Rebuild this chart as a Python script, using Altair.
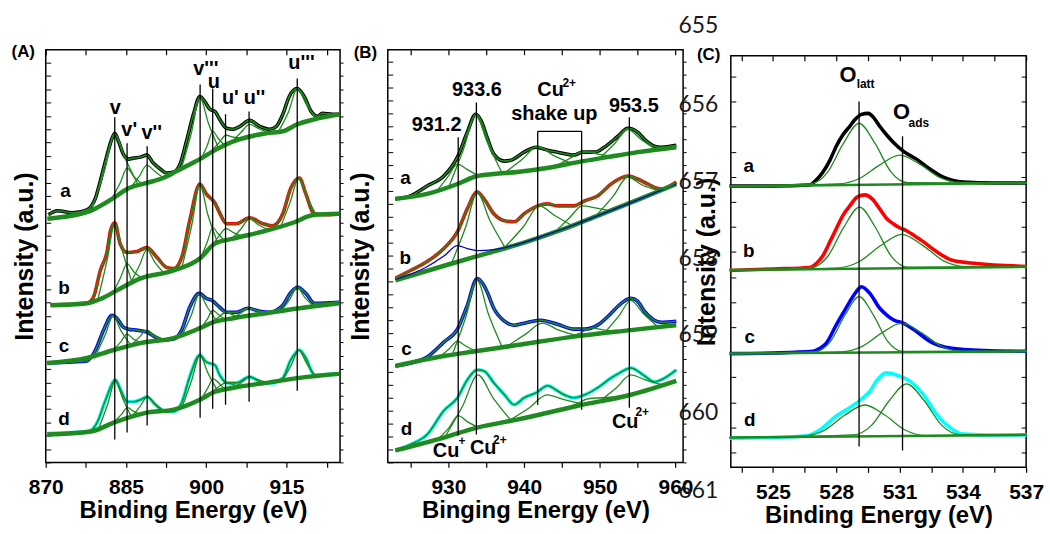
import altair as alt
import pandas as pd

GREEN = "#1f8a1f"
FONT = "Liberation Sans"
SAMPLES = ["a", "b", "c", "d"]
SAMPLE_COLORS = ["#000000", "#ff0000", "#0000ff", "#00ffff"]

# ======================= Panel A : Ce 3d =======================
A_xticks = [870, 877.5, 885, 892.5, 900, 907.5, 915, 922.5]

A_a_E = [870.5, 872.2, 875.0, 877.7, 879.3, 880.2, 881.5, 882.4, 882.9, 883.6, 884.5, 885.5, 886.4, 887.7, 888.9,
         890.1, 891.4, 892.6, 893.9, 895.1, 896.3, 897.6, 898.8, 899.7, 900.7, 901.6, 902.5, 903.8, 905.0, 906.3,
         908.1, 910.0, 911.8, 913.1, 914.3, 915.5, 917.0, 918.3, 919.6, 920.8, 921.7, 923.6, 924.8]
A_a_I = [249, 253, 251, 254, 266, 283, 310, 326, 331, 323, 310, 305, 306, 307, 309, 301, 295, 291, 292, 300,
         323, 350, 368, 363, 355, 353, 345, 336, 335, 338, 344, 338, 335, 338, 350, 368, 376, 368, 353, 348,
         351, 350, 350]
A_b_E = [870.9, 875.0, 877.7, 878.9, 880.2, 881.5, 882.1, 882.9, 883.9, 885.2, 887.0, 888.9, 890.8, 892.6, 893.9,
         895.4, 896.9, 898.8, 900.0, 901.6, 902.5, 903.8, 905.6, 908.1, 910.6, 912.4, 914.3, 915.8, 917.4, 918.6,
         920.2, 922.5, 924.8]
A_b_I = [158, 159, 160, 166, 193, 213, 233, 241, 220, 211, 212, 216, 206, 196, 195, 206, 243, 280, 270, 261,
         251, 240, 240, 246, 240, 238, 250, 276, 286, 270, 250, 249, 250]
A_c_E = [870.3, 875.0, 877.7, 879.3, 880.8, 882.4, 883.3, 884.5, 885.5, 887.0, 888.9, 890.5, 892.0, 893.9, 895.4,
         896.9, 898.7, 900.0, 901.0, 902.5, 903.8, 905.6, 907.8, 910.0, 911.8, 914.3, 915.8, 917.1, 918.6, 920.2, 924.8]
A_c_I = [100, 101, 102, 113, 133, 148, 145, 136, 134, 133, 131, 126, 123, 124, 133, 156, 170, 165, 163, 156,
         151, 151, 155, 152, 151, 158, 171, 176, 170, 160, 161]
A_d_E = [870.3, 875.0, 878.0, 879.6, 881.2, 883.0, 884.0, 885.2, 886.4, 887.7, 888.9, 890.5, 892.3, 893.9, 895.4,
         896.9, 898.8, 900.0, 901.6, 902.5, 903.8, 905.6, 908.1, 910.6, 912.4, 914.3, 915.8, 917.4, 918.6, 920.2, 924.8]
A_d_I = [29, 30, 31, 40, 63, 83, 73, 61, 61, 63, 66, 58, 51, 51, 60, 86, 108, 101, 98, 88,
         80, 80, 86, 80, 80, 85, 103, 113, 105, 88, 89]

A_bg_a_E = [870.3, 878.4, 880.2, 882.7, 885.2, 888.9, 891.9, 894.5, 896.3, 898.8, 901.3, 903.8, 906.3, 911.2, 914.3, 917.0, 920.2, 924.8]
A_bg_a_I = [245, 253, 258, 266, 275, 281, 286, 293, 298, 305, 313, 320, 325, 331, 333, 340, 345, 350]
A_bg_b_E = [870.9, 877.7, 880.5, 883.3, 887.7, 893.9, 898.8, 901.6, 905.0, 911.2, 916.2, 920.2, 924.8]
A_bg_b_I = [158, 160, 165, 173, 185, 193, 205, 220, 225, 233, 241, 249, 250]
A_bg_c_E = [870.3, 877.7, 882.7, 887.7, 893.9, 898.8, 901.3, 905.0, 911.2, 917.4, 924.8]
A_bg_c_I = [100, 105, 113, 120, 125, 135, 141, 145, 150, 155, 160]
A_bg_d_E = [870.3, 878.4, 882.7, 888.9, 893.9, 898.8, 901.6, 905.0, 911.2, 917.4, 924.8]
A_bg_d_I = [28, 31, 40, 50, 53, 63, 71, 75, 80, 85, 89]

A_comp_a = [
    ([878.5, 880.9, 882.9, 884.9, 887.3], [253, 292, 330, 305, 279]),
    ([882.3, 883.9, 885.2, 886.5, 888.1], [265, 281, 296, 287, 280]),
    ([885.8, 887.5, 888.9, 890.3, 892.0], [276, 288, 299, 293, 286]),
    ([895.3, 897.2, 898.8, 900.4, 902.3], [295, 331, 367, 341, 316]),
    ([899.0, 900.2, 901.2, 902.2, 903.4], [305, 319, 333, 326, 319]),
    ([900.6, 902.3, 903.7, 905.1, 906.8], [311, 321, 329, 327, 326]),
    ([904.6, 906.5, 908.1, 909.7, 911.6], [321, 332, 340, 336, 332]),
    ([913.5, 915.4, 917.0, 918.6, 920.5], [333, 353, 376, 361, 345]),
]
A_comp_b = [
    ([879.7, 881.45, 882.9, 884.35, 886.1], [163, 203, 240, 212, 181]),
    ([882.6, 884.0, 885.2, 886.4, 888.0], [171, 186, 200, 192, 185]),
    ([885.8, 887.5, 888.9, 890.3, 892.0], [180, 198, 214, 202, 191]),
    ([895.5, 897.3, 898.8, 900.3, 902.1], [197, 239, 279, 249, 221]),
    ([899.0, 900.2, 901.2, 902.2, 903.4], [206, 222, 236, 230, 223]),
    ([900.6, 902.3, 903.7, 905.1, 906.8], [214, 227, 235, 231, 227]),
    ([904.6, 906.5, 908.1, 909.7, 911.6], [224, 235, 245, 239, 234]),
    ([913.9, 915.7, 917.2, 918.7, 920.5], [237, 262, 285, 268, 249]),
]
A_comp_c = [
    ([879.3, 881.1, 882.6, 884.1, 885.9], [107, 128, 147, 132, 118]),
    ([882.6, 884.0, 885.2, 886.4, 888.0], [113, 121, 129, 124, 120]),
    ([885.8, 887.5, 888.9, 890.3, 892.0], [117, 126, 133, 128, 123]),
    ([895.4, 897.2, 898.7, 900.2, 902.0], [127, 148, 169, 156, 142]),
    ([899.0, 900.2, 901.2, 902.2, 903.4], [135, 144, 153, 149, 144]),
    ([900.6, 902.3, 903.7, 905.1, 906.8], [139, 146, 151, 148, 146]),
    ([904.5, 906.4, 908.0, 909.6, 911.5], [144, 150, 155, 152, 150]),
    ([913.9, 915.6, 917.0, 918.4, 920.1], [152, 164, 176, 166, 157]),
]
A_comp_d = [
    ([879.9, 881.6, 883.0, 884.4, 886.1], [34, 59, 82, 64, 45]),
    ([882.7, 884.1, 885.3, 886.5, 888.0], [40, 48, 55, 51, 48]),
    ([885.9, 887.6, 889.0, 890.4, 892.1], [45, 56, 66, 59, 52]),
    ([895.5, 897.3, 898.8, 900.3, 902.1], [56, 83, 108, 90, 72]),
    ([899.1, 900.3, 901.3, 902.3, 903.5], [64, 75, 84, 80, 73]),
    ([900.6, 902.3, 903.7, 905.1, 906.8], [68, 76, 80, 78, 76]),
    ([904.6, 906.5, 908.1, 909.7, 911.6], [74, 80, 86, 83, 80]),
    ([914.2, 915.9, 917.3, 918.7, 920.4], [82, 98, 113, 100, 87]),
]
A_line_E = [882.9, 885.2, 888.95, 898.85, 901.2, 903.6, 908.0, 917.0]
A_line_top = [347, 321, 318, 380, 376, 350, 353, 386]
A_line_bot = [23, 30, 37, 45, 54, 58, 61, 72]
A_lab_text = ["v", "v'", "v''", "v'''", "u", "u'", "u''", "u'''", "a", "b", "c", "d", "(A)"]
A_lab_E = [883.0, 885.6, 889.8, 899.9, 901.4, 904.5, 909.0, 917.8, 873.7, 873.4, 873.4, 873.4, 865.8]
A_lab_I = [350, 328, 325, 390, 377, 360, 360, 396, 267, 169, 111, 38, 408]
A_lab_fs = [20, 20, 20, 20, 20, 20, 20, 20, 19, 19, 19, 19, 17]

# ======================= Panel B : Cu 2p =======================
B_xticks = [925, 930, 935, 940, 945, 950, 955, 960]

B_a_E = [923.0, 925.0, 927.2, 929.4, 931.2, 932.5, 933.6, 934.3, 935.2, 936.0, 937.4, 938.3, 940.0, 941.6,
         943.1, 944.4, 946.6, 947.7, 949.3, 950.6, 952.4, 953.7, 955.0, 955.9, 957.2, 958.1, 960.1]
B_a_I = [265, 268, 278, 288, 307, 332, 350, 344, 325, 310, 303, 304, 312, 317, 314, 312, 309, 312, 312, 317,
         328, 336, 332, 325, 318, 317, 319]
B_b_E = [923.0, 925.0, 927.2, 929.4, 931.2, 932.5, 933.8, 934.7, 936.0, 937.4, 938.7, 940.0, 941.8, 943.1,
         944.4, 946.6, 948.0, 949.7, 951.5, 953.7, 955.0, 956.3, 958.1, 960.1]
B_b_I = [185, 193, 202, 215, 232, 255, 272, 265, 250, 243, 242, 250, 258, 260, 258, 258, 263, 268, 280, 288,
         285, 280, 275, 282]
B_c_E = [923.0, 925.0, 927.2, 929.4, 931.2, 932.5, 933.8, 934.7, 935.2, 936.0, 937.4, 938.7, 940.0, 942.2,
         944.4, 946.6, 948.0, 949.7, 951.5, 952.4, 954.1, 955.0, 955.9, 957.2, 958.1, 960.1]
B_c_I = [97, 100, 106, 121, 134, 158, 185, 178, 170, 155, 142, 138, 140, 143, 139, 134, 134, 138, 150, 157,
         165, 162, 152, 143, 141, 142]
B_d_E = [923.0, 925.0, 927.2, 929.4, 931.2, 932.5, 933.8, 934.7, 936.0, 937.4, 938.7, 940.0, 941.6, 943.1,
         944.4, 945.3, 946.6, 948.0, 949.7, 951.5, 952.4, 954.1, 955.9, 957.2, 958.1, 960.1]
B_d_I = [12, 18, 28, 52, 65, 83, 93, 92, 80, 68, 58, 65, 70, 77, 72, 68, 65, 68, 75, 85, 89, 95, 87, 81, 83, 93]

B_bg_a_E = [923.0, 927.2, 931.2, 933.8, 936.0, 939.1, 943.0, 947.1, 951.0, 955.0, 960.1]
B_bg_a_I = [265, 270, 280, 288, 290, 292, 296, 302, 307, 312, 317]
B_bg_b_E = [923.0, 930.0, 935.0, 940.0, 945.0, 950.0, 955.0, 960.1]
B_bg_b_I = [183, 199, 210, 221, 234, 249, 264, 280]
B_bg_c_E = [923.0, 929.4, 933.8, 939.1, 947.1, 954.1, 960.1]
B_bg_c_I = [97, 107, 112, 118, 127, 133, 138]
B_bg_d_E = [923.0, 929.4, 933.8, 939.1, 947.1, 954.1, 960.1]
B_bg_d_I = [12, 25, 35, 43, 57, 68, 82]
B_blue_E = [923.0, 927.0, 929.5, 931.2, 932.5, 933.8, 936.0, 939.0, 943.0, 947.0, 951.0, 955.0, 960.1]
B_blue_I = [184, 196, 208, 218, 215, 213, 214, 219, 229, 240, 252, 264, 280]

B_comp_a = [
    ([928.6, 930.0, 931.2, 932.4, 934.0], [274, 288, 300, 295, 288]),
    ([930.1, 932.0, 933.6, 935.2, 937.1], [278, 315, 349, 321, 291]),
    ([937.4, 939.8, 941.8, 943.8, 946.2], [291, 305, 318, 309, 301]),
    ([944.0, 946.1, 947.9, 949.7, 951.9], [297, 306, 313, 310, 308]),
    ([950.0, 952.0, 953.7, 955.4, 957.4], [306, 321, 335, 325, 315]),
]
B_comp_b = [
    ([930.4, 932.3, 933.8, 935.5, 937.5], [200, 237, 271, 243, 216]),
    ([937.4, 939.9, 942.0, 944.1, 946.6], [216, 237, 258, 248, 237]),
    ([944.0, 946.0, 947.7, 949.4, 951.4], [231, 246, 258, 256, 253]),
    ([949.5, 951.8, 953.7, 955.6, 957.9], [248, 268, 287, 279, 273]),
]
B_comp_c = [
    ([928.8, 930.1, 931.2, 932.3, 933.6], [106, 114, 122, 117, 112]),
    ([930.5, 932.3, 933.8, 935.3, 937.1], [108, 146, 183, 149, 116]),
    ([937.6, 940.2, 942.4, 944.6, 947.2], [116, 129, 140, 133, 127]),
    ([945.5, 947.4, 949.0, 950.6, 952.5], [125, 130, 135, 133, 132]),
    ([950.6, 952.5, 954.1, 955.7, 957.6], [130, 147, 163, 150, 137]),
]
B_comp_d = [
    ([928.7, 930.1, 931.3, 932.5, 934.0], [24, 35, 47, 41, 35]),
    ([929.5, 931.9, 933.9, 935.9, 938.3], [25, 57, 88, 65, 42]),
    ([938.0, 940.7, 943.0, 945.3, 948.1], [42, 55, 68, 63, 58]),
    ([944.5, 946.7, 948.5, 950.3, 952.5], [52, 58, 64, 65, 66]),
    ([949.9, 952.2, 954.1, 956.0, 958.3], [61, 75, 88, 83, 78]),
]
B_line_E = [931.3, 933.7, 941.8, 947.6, 953.9]
B_line_top = [327, 362, 333, 333, 347]
B_line_bot = [27, 28, 58, 53, 55]
B_bracket = (941.8, 947.6, 333)
B_lab_text = ["931.2", "933.6", "Cu", "2+", "shake up", "953.5", "a", "b", "c", "d",
              "Cu", "+", "Cu", "2+", "Cu", "2+", "(B)"]
B_lab_E = [928.45, 933.77, 943.5, 945.97, 944.0, 954.5, 924.35, 924.3, 924.47, 924.47,
           929.7, 931.8, 934.6, 936.8, 953.36, 955.6, 919.05]
B_lab_I = [333, 368, 368, 378, 344, 352, 280, 200, 108, 28, 5, 17, 8, 18, 35, 47, 407]
B_lab_fs = [20, 20, 20, 12, 20, 20, 19, 19, 19, 19, 20, 12, 20, 12, 20, 12, 17]

# ======================= Panel C : O 1s =======================
C_xticks = [523.5, 525, 526.5, 528, 529.5, 531, 532.5, 534, 535.5, 537]

C_a_E = [522.94, 525.0, 526.74, 527.05, 527.37, 527.7, 528.0, 528.3, 528.64, 528.9, 529.19, 529.51, 529.8,
         530.06, 530.4, 530.7, 531.17, 531.8, 532.44, 533.07, 534.02, 535.5, 537.03]
C_a_I = [283, 283, 284, 289, 297, 309, 323, 334, 343, 350, 355, 356, 351, 343, 334, 327, 318, 310, 300, 292,
         287, 286, 286]
C_b_E = [522.94, 525.0, 526.74, 527.05, 527.37, 527.7, 528.0, 528.3, 528.64, 529.0, 529.35, 529.7, 530.06,
         530.4, 530.7, 531.0, 531.33, 531.7, 532.12, 532.75, 533.54, 534.65, 537.03]
C_b_I = [198, 199.5, 201, 205, 213, 227, 240, 253, 263, 272, 274, 270, 260, 250, 245, 241, 238, 233, 227, 217,
         208, 205, 202]
C_c_E = [522.94, 525.0, 526.9, 527.2, 527.53, 528.0, 528.32, 528.64, 528.95, 529.19, 529.59, 530.06, 530.38,
         530.7, 531.17, 531.8, 532.44, 533.39, 535.0, 537.03]
C_c_I = [114.4, 115, 116.7, 119.4, 125, 143.4, 155, 166.7, 176.7, 181.7, 175, 160, 153.4, 148.4, 145, 136.7,
         126.7, 120, 117.5, 116.7]
C_d_E = [522.94, 525.0, 526.6, 527.0, 527.37, 528.0, 528.64, 529.27, 529.6, 529.9, 530.38, 531.01, 531.49,
         532.12, 532.75, 533.39, 534.02, 535.5, 537.03]
C_d_I = [29.4, 30, 31.7, 35, 40, 51.7, 60, 70, 76.7, 86.7, 95, 91.7, 86.7, 73.4, 53.4, 40, 33.4, 32.5, 32.7]

C_bg_E = [522.94, 537.03]
C_bg_a_I = [282.7, 286]
C_bg_b_I = [198.4, 201.7]
C_bg_c_I = [114.4, 116.7]
C_bg_d_I = [30, 32.7]

C_comp_a = [
    ([522.94, 526.78, 527.58, 528.33, 529.08, 529.83, 530.58, 531.38, 537.03], [282.7, 285.2, 296.6, 325.5, 346, 326, 297.5, 286.3, 286]),
    ([522.94, 528.08, 529.1, 530.05, 531.0, 531.95, 532.9, 533.92, 537.03], [282.7, 285, 290.5, 304, 314, 305, 291.5, 286.5, 286]),
]
C_comp_b = [
    ([522.94, 526.8, 527.6, 528.35, 529.1, 529.85, 530.6, 531.4, 537.03], [198.4, 200.8, 212.3, 241.3, 261.7, 241.5, 212.5, 201.3, 201.7]),
    ([522.94, 527.99, 529.08, 530.09, 531.1, 532.11, 533.13, 534.2, 537.03], [198.4, 200.4, 206.8, 222.8, 234.4, 223, 207.2, 201.8, 201.7]),
]
C_comp_c = [
    ([522.94, 527.01, 527.73, 528.41, 529.08, 529.76, 530.43, 531.15, 537.03], [114.4, 116.4, 126.8, 153, 171.7, 153.2, 127, 116.6, 116.7]),
    ([522.94, 528.23, 529.23, 530.16, 531.1, 532.04, 532.98, 533.98, 537.03], [114.4, 116.1, 121.6, 135.2, 145, 135.4, 121.8, 116.6, 116.7]),
]
C_comp_d = [
    ([522.94, 526.43, 527.45, 528.4, 529.35, 530.3, 531.26, 532.27, 537.03], [30, 31.4, 37.4, 52.4, 62.7, 52.6, 37.6, 32, 32.7]),
    ([522.94, 528.8, 529.68, 530.51, 531.33, 532.16, 532.98, 533.86, 537.03], [30, 32.6, 42.5, 67, 84, 67.2, 42.7, 33, 32.7]),
]
C_line_E = [529.08, 531.14]
C_line_top = [368, 333]
C_line_bot = [21, 17]
C_lab_text = ["O", "latt", "O", "ads", "a", "b", "c", "d", "(C)"]
C_lab_E = [528.56, 529.39, 531.09, 531.91, 523.85, 523.85, 523.9, 523.9, 521.95]
C_lab_I = [388, 382, 350, 342, 297, 212, 125, 42, 410]
C_lab_fs = [22, 12, 22, 12, 19, 19, 19, 19, 17]

# manuscript line numbers overlaid on the figure
NUM_text = ["655", "656", "657", "658", "659", "660", "661"]
NUM_I = [437, 357.5, 280, 202.5, 126, 47.5, -31]
NUM_E = 522.4


def lines_df(curves):
    rows = []
    for cid, sample, Es, Is in curves:
        for k, (e, i) in enumerate(zip(Es, Is)):
            rows.append({"cid": cid, "sample": sample, "E": e, "I": i, "k": k})
    return pd.DataFrame(rows)


def comp_curves(tag, sample, comps):
    return [(f"{tag}{sample}{j}", sample, e, i) for j, (e, i) in enumerate(comps)]


def panel(xdom, ydom, W, H, data, bgs, comps, env, bg_width, lines, labels, xticks, label_expr,
          xtitle, ytitle_pad, yticks, right_inward, bracket=None, blue=None, numbers=False):
    xs = alt.Scale(domain=xdom, nice=False, zero=False)
    ys = alt.Scale(domain=ydom, nice=False, zero=False)
    X = alt.X("E:Q", scale=xs, axis=None)
    Y = alt.Y("I:Q", scale=ys, axis=None)
    ddf = lines_df(data)
    layers = [
        alt.Chart(ddf).mark_line(strokeWidth=3.6, interpolate="monotone").encode(
            x=X, y=Y, detail="cid:N", order="k:Q",
            color=alt.Color("sample:N", scale=alt.Scale(domain=SAMPLES, range=SAMPLE_COLORS), legend=None)),
        alt.Chart(lines_df(bgs)).mark_line(strokeWidth=bg_width, color=GREEN, interpolate="monotone").encode(
            x=X, y=Y, detail="cid:N", order="k:Q"),
        alt.Chart(lines_df(comps)).mark_line(strokeWidth=1.3, color=GREEN, interpolate="monotone").encode(
            x=X, y=Y, detail="cid:N", order="k:Q"),
    ]
    if blue is not None:
        layers.append(alt.Chart(lines_df([blue])).mark_line(strokeWidth=1.3, color="#0000c8", interpolate="monotone").encode(
            x=X, y=Y, detail="cid:N", order="k:Q"))
    if env:
        layers.append(alt.Chart(ddf).mark_line(strokeWidth=1.6, color=GREEN, interpolate="monotone").encode(
            x=X, y=Y, detail="cid:N", order="k:Q"))
    le, lt, lb = lines
    ldf = pd.DataFrame({"E": le, "top": lt, "bot": lb})
    layers.append(alt.Chart(ldf).mark_rule(color="black", strokeWidth=1.3).encode(
        x=X, y=alt.Y("top:Q", scale=ys, axis=None), y2="bot:Q"))
    if bracket is not None:
        bdf = pd.DataFrame({"E": [bracket[0]], "E2": [bracket[1]], "I": [bracket[2]]})
        layers.append(alt.Chart(bdf).mark_rule(color="black", strokeWidth=1.3).encode(
            x=X, x2="E2:Q", y=Y))
    tt, te, ti, tf = labels
    tdf = pd.DataFrame({"t": tt, "E": te, "I": ti, "fs": tf})
    layers.append(alt.Chart(tdf).mark_text(font=FONT, fontWeight="bold", align="center",
                                           baseline="alphabetic", color="black").encode(
        x=X, y=Y, text="t:N", size=alt.Size("fs:Q", scale=None)))
    if numbers:
        ndf = pd.DataFrame({"t": NUM_text, "I": NUM_I, "E": [NUM_E] * len(NUM_text)})
        layers.append(alt.Chart(ndf).mark_text(font="Lato", fontSize=23, align="right",
                                               baseline="alphabetic", color="#1a1a1a").encode(
            x=X, y=Y, text="t:N"))

    # axes
    corners = pd.DataFrame({"E": xdom, "I": ydom})
    base = alt.Chart(corners).mark_point(opacity=0)
    layers.append(base.encode(
        x=alt.X("E:Q", scale=xs, axis=alt.Axis(orient="bottom", values=xticks, labelExpr=label_expr,
                                               title=xtitle, domain=False, tickSize=5, tickWidth=1.2,
                                               labelPadding=9, titlePadding=1, labelFlush=False)),
        y=alt.Y("I:Q", scale=ys, axis=alt.Axis(orient="left", title="Intensity (a.u.)", labels=False,
                                               ticks=False, domain=False, titlePadding=ytitle_pad,
                                               titleFontSize=25))))
    layers.append(base.encode(
        x=alt.X("E:Q", scale=xs, axis=alt.Axis(orient="bottom", offset=-H, values=xticks, labels=False,
                                               title=None, domain=False, tickSize=5, tickWidth=1.2)),
        y=alt.Y("I:Q", scale=ys, axis=alt.Axis(orient="right", offset=-W, values=yticks, labels=False,
                                               title=None, domain=False, tickSize=5, tickWidth=1))))
    if right_inward:
        ry = alt.Axis(orient="left", offset=-W, values=yticks, labels=False, title=None, domain=False,
                      tickSize=5, tickWidth=1)
    else:
        ry = alt.Axis(orient="right", values=yticks, labels=False, title=None, domain=False,
                      tickSize=3, tickWidth=1)
    layers.append(base.encode(x=alt.X("E:Q", scale=xs, axis=None), y=alt.Y("I:Q", scale=ys, axis=ry)))

    return alt.layer(*layers).resolve_axis(x="independent", y="independent").properties(width=W, height=H)


A_yticks = [round(13.4 * i, 1) for i in range(31)]
B_yticks = [13 * i for i in range(32)]
C_yticks = [round(15 + 25.2 * i, 1) for i in range(16)]

chartA = panel(
    [870, 925], [0, 415], 296, 415,
    data=[("a", "a", A_a_E, A_a_I), ("b", "b", A_b_E, A_b_I), ("c", "c", A_c_E, A_c_I), ("d", "d", A_d_E, A_d_I)],
    bgs=[("ga", "a", A_bg_a_E, A_bg_a_I), ("gb", "b", A_bg_b_E, A_bg_b_I),
         ("gc", "c", A_bg_c_E, A_bg_c_I), ("gd", "d", A_bg_d_E, A_bg_d_I)],
    comps=comp_curves("p", "a", A_comp_a) + comp_curves("p", "b", A_comp_b)
    + comp_curves("p", "c", A_comp_c) + comp_curves("p", "d", A_comp_d),
    env=True, bg_width=4.5,
    lines=(A_line_E, A_line_top, A_line_bot),
    labels=(A_lab_text, A_lab_E, A_lab_I, A_lab_fs),
    xticks=A_xticks, label_expr="datum.value % 15 == 0 ? datum.label : ''",
    xtitle="Binding Energy (eV)", ytitle_pad=8, yticks=A_yticks, right_inward=False,
)

chartB = panel(
    [922, 961], [0, 415], 297, 415,
    data=[("a", "a", B_a_E, B_a_I), ("b", "b", B_b_E, B_b_I), ("c", "c", B_c_E, B_c_I), ("d", "d", B_d_E, B_d_I)],
    bgs=[("ga", "a", B_bg_a_E, B_bg_a_I), ("gb", "b", B_bg_b_E, B_bg_b_I),
         ("gc", "c", B_bg_c_E, B_bg_c_I), ("gd", "d", B_bg_d_E, B_bg_d_I)],
    comps=comp_curves("p", "a", B_comp_a) + comp_curves("p", "b", B_comp_b)
    + comp_curves("p", "c", B_comp_c) + comp_curves("p", "d", B_comp_d),
    env=True, bg_width=4.5,
    lines=(B_line_E, B_line_top, B_line_bot),
    labels=(B_lab_text, B_lab_E, B_lab_I, B_lab_fs),
    xticks=B_xticks, label_expr="datum.value % 10 == 0 ? datum.label : ''",
    xtitle="Binging Energy (eV)", ytitle_pad=14, yticks=B_yticks, right_inward=False,
    bracket=B_bracket, blue=("blue", "b", B_blue_E, B_blue_I),
)

chartC = panel(
    [523, 537], [0, 414], 297, 414,
    data=[("a", "a", C_a_E, C_a_I), ("b", "b", C_b_E, C_b_I), ("c", "c", C_c_E, C_c_I), ("d", "d", C_d_E, C_d_I)],
    bgs=[("ga", "a", C_bg_E, C_bg_a_I), ("gb", "b", C_bg_E, C_bg_b_I),
         ("gc", "c", C_bg_E, C_bg_c_I), ("gd", "d", C_bg_E, C_bg_d_I)],
    comps=comp_curves("p", "a", C_comp_a) + comp_curves("p", "b", C_comp_b)
    + comp_curves("p", "c", C_comp_c) + comp_curves("p", "d", C_comp_d),
    env=False, bg_width=2.5,
    lines=(C_line_E, C_line_top, C_line_bot),
    labels=(C_lab_text, C_lab_E, C_lab_I, C_lab_fs),
    xticks=C_xticks, label_expr="(datum.value - 525) % 3 == 0 ? datum.label : ''",
    xtitle="Binding Energy (eV)", ytitle_pad=11, yticks=C_yticks, right_inward=True,
    numbers=True,
)

# empty strip that lowers panel C by a few pixels, as in the original figure
spacer = alt.Chart(pd.DataFrame({"v": [0]})).mark_point(opacity=0).encode(
    x=alt.X("v:Q", axis=None), y=alt.Y("v:Q", axis=None)
).properties(width=297, height=6, view=alt.ViewBackground(stroke="transparent"))

chart = alt.hconcat(
    chartA, chartB, alt.vconcat(spacer, chartC, spacing=0, bounds="flush"),
    spacing=48, bounds="flush",
).properties(
    padding={"left": 10, "top": 12.5, "right": 5, "bottom": 5}
).configure_view(
    stroke="black", strokeWidth=1.5
).configure_axis(
    grid=False, labelFont=FONT, labelFontWeight="bold", labelFontSize=21, labelColor="black",
    titleFont=FONT, titleFontWeight="bold", titleFontSize=24, titleColor="black", tickColor="black",
)

chart.save("out.html", embed_options={"renderer": "svg", "actions": False})
